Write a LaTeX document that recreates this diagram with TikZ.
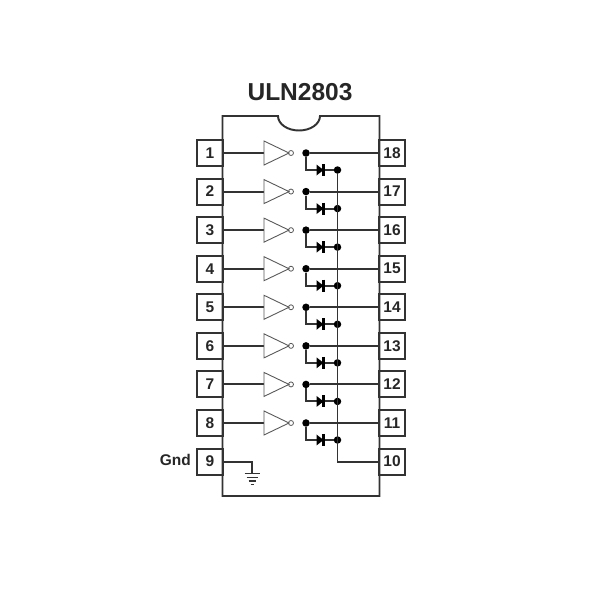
\documentclass[tikz,border=0pt]{standalone}
\usepackage{fontspec}
\setmainfont{Liberation Sans}
\usetikzlibrary{calc}
\tikzset{x=1pt,y=-1pt,
 wire/.style={line width=1.95pt,draw=black!80},
 pinbox/.style={draw=black!80,line width=1.95pt,minimum width=25.5pt,minimum height=26pt,inner sep=0pt,font=\fontsize{15.5pt}{17pt}\selectfont\bfseries,text=black!85},
 inv/.style={draw=black!65,line width=.9pt},
 dot/.style={circle,fill=black,inner sep=0pt,minimum size=7.5pt},
 bubble/.style={circle,draw=black!65,fill=white,line width=.8pt,inner sep=0pt,minimum size=5pt}}
\begin{document}
\begin{tikzpicture}
\useasboundingbox (0,0) rectangle (600,600);
\node[font=\fontsize{24.5pt}{27pt}\selectfont\bfseries,text=black!85] (title) at (300,92.5) {ULN2803};
\draw[wire] (222.5,116) -- (278,116) arc[start angle=180,end angle=0,x radius=21,y radius=14.5] -- (379.5,116) -- (379.5,496) -- (222.5,496) -- cycle;
% pins
\foreach \i/\l/\r [evaluate=\i as \y using 153+38.57*(\i-1)] in {1/1/18,2/2/17,3/3/16,4/4/15,5/5/14,6/6/13,7/7/12,8/8/11,9/9/10}{
 \node[pinbox] (L\i) at (210,\y) {\l};
 \node[pinbox] (R\i) at (392,\y) {\r};
}
\foreach \i [evaluate=\i as \y using 153+38.57*(\i-1)] in {1,...,8}{
 \coordinate (A\i) at (264,\y);
 \coordinate (T\i) at (264,\y-12);
 \coordinate (B\i) at (264,\y+12);
 \coordinate (Tip\i) at (289,\y);
 \node[bubble] (Bub\i) at (291,\y) {};
 \node[dot] (J\i) at (306,\y) {};
 \node[dot] (K\i) at (337.5,\y+17) {};
 \coordinate (C\i) at (306,\y+17);
 \coordinate (D\i) at (316.5,\y+17);
 \coordinate (E\i) at (323.5,\y+17);
 \draw[wire] (L\i.east) -- (A\i);
 \draw[inv] (T\i) -- (Tip\i) -- (B\i) -- cycle;
 \draw[wire] (J\i) -- (R\i.west);
 \draw[wire] (J\i) -- (C\i) -- (K\i);
 \fill[black] ($(D\i)+(0,-5.5)$) -- (E\i) -- ($(D\i)+(0,5.5)$) -- cycle;
 \draw[line width=2.2pt,black] ($(E\i)+(0,-6)$) -- ($(E\i)+(0,6)$);
}
\coordinate (G0) at (252,{153+38.57*8});
\coordinate (G1) at (252,473);
\coordinate (BusEnd) at (337.5,{153+38.57*8});
\draw[wire] (L9.east) -- (G0) -- (G1);
\draw[wire] (244.5,473.5) -- (259.5,473.5);
\draw[wire,line width=1.5pt] (246.5,477.5) -- (257.5,477.5);
\draw[wire,line width=1.5pt] (248.5,481) -- (255.5,481);
\draw[wire,line width=1.5pt] (250.5,484.5) -- (253.5,484.5);
\draw[wire] (K1) -- (BusEnd) -- (R9.west);
\node[font=\fontsize{15.5pt}{17pt}\selectfont\bfseries,text=black!85,anchor=east,inner sep=0pt] (gnd) at (191,460) {Gnd};
\end{tikzpicture}
\end{document}
